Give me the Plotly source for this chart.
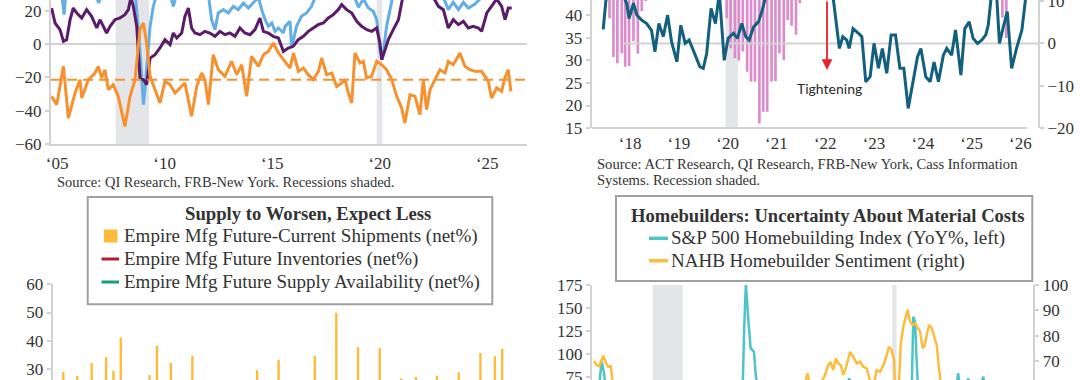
import plotly.graph_objects as go

W, H = 1080, 380
SERIF = "Liberation Serif"
SANS = "Lato"
TXT = "#333333"
GRID = "#d2d2d2"
REC = "#e4e5e8"

# ---------------- Panel A (top-left): Empire survey lines, decimal years ----------------
a_blue = [(2004.92, 32), (2005.41, 30), (2005.52, 17.6), (2005.60, 30), (2006.96, 30), (2007.14, 24.6),
          (2007.27, 32), (2008.51, 35), (2008.85, 27), (2009.00, 5), (2009.13, -20), (2009.21, -36.4),
          (2009.28, -28), (2009.36, -13.4), (2009.52, 10.6), (2009.67, 22.6), (2009.83, 30), (2010.45, 30),
          (2010.60, 22.6), (2010.76, 30), (2012.23, 30), (2012.38, 14.6), (2012.54, 8.6), (2012.69, 18.6),
          (2012.93, 20.6), (2013.16, 18.6), (2013.39, 22.6), (2013.62, 20.6), (2013.86, 24.6), (2014.09, 21.6),
          (2014.32, 24.6), (2014.56, 28), (2014.71, 20.6), (2014.87, 14.6), (2015.02, 10.6), (2015.18, 12.6),
          (2015.33, 7.6), (2015.49, 9.6), (2015.72, 6.6), (2015.80, 10.6), (2016.03, 13.6), (2016.10, -1.4),
          (2016.18, 2.0), (2016.33, 10.6), (2016.56, 16.6), (2016.80, 18.6), (2017.03, 22.6), (2017.26, 30),
          (2018.10, 35), (2018.97, 30), (2019.21, 22.1), (2019.44, 27), (2019.67, 21.6), (2019.90, 19.6),
          (2020.06, 14.6), (2020.21, -3.4), (2020.32, -9.4), (2020.52, 10.6), (2020.68, 20.6), (2020.83, 30),
          (2021.80, 40), (2023.16, 28), (2023.39, 20.6), (2023.62, 25), (2023.86, 20.6), (2024.09, 25),
          (2024.32, 21.6), (2024.63, 24), (2024.94, 28), (2025.50, 32), (2026.30, 30)]

a_purple = [(2004.94, 21.6), (2005.10, 12.6), (2005.33, 8.6), (2005.49, 1.6), (2005.64, 2.6), (2005.80, 14.6),
            (2005.95, 21.6), (2006.11, 18.6), (2006.34, 15.6), (2006.57, 20.6), (2006.80, 16.6), (2007.04, 9.6),
            (2007.19, 14.6), (2007.35, 10.6), (2007.50, 6.6), (2007.66, 10.6), (2007.89, 14.6), (2008.12, 15.6),
            (2008.35, 17.6), (2008.51, 20.6), (2008.63, 28), (2008.74, 22.6), (2008.90, 10.6), (2009.05, -20.4),
            (2009.21, -21.4), (2009.36, -24.4), (2009.52, -8.4), (2009.75, -6.4), (2009.98, -2.4), (2010.21, 2.6),
            (2010.45, -0.4), (2010.60, 6.6), (2010.76, 3.6), (2010.99, 6.6), (2011.14, 16.6), (2011.30, 21.6),
            (2011.45, 9.6), (2011.61, 6.6), (2011.84, 5.6), (2012.07, 7.6), (2012.30, 6.6), (2012.54, 4.6),
            (2012.77, 7.6), (2013.00, 5.6), (2013.23, 6.6), (2013.47, 4.6), (2013.70, 9.6), (2013.93, 6.6),
            (2014.17, 5.6), (2014.40, 8.6), (2014.63, 15.6), (2014.79, 7.6), (2015.02, 6.6), (2015.25, 4.6),
            (2015.49, 3.6), (2015.72, -4.4), (2015.95, -2.4), (2016.18, -1.4), (2016.41, 2.6), (2016.65, 4.6),
            (2016.88, 7.6), (2017.11, 9.6), (2017.34, 11.6), (2017.58, 12.6), (2017.81, 15.6), (2018.04, 17.6),
            (2018.27, 20.6), (2018.43, 23.6), (2018.66, 20.6), (2018.90, 18.6), (2019.13, 13.6), (2019.36, 10.6),
            (2019.60, 8.6), (2019.83, 7.6), (2020.06, 9.6), (2020.21, 0.6), (2020.29, -9.4), (2020.45, -3.4),
            (2020.60, 2.6), (2020.83, 8.6), (2021.07, 14.6), (2021.22, 24.6), (2021.30, 30), (2022.00, 38),
            (2022.69, 28), (2022.93, 22.6), (2023.16, 20.6), (2023.39, 9.6), (2023.62, 14.6), (2023.86, 11.6),
            (2024.09, 13.6), (2024.32, 9.6), (2024.55, 10.6), (2024.79, 9.6), (2024.94, 7.6), (2025.18, 18.6),
            (2025.41, 22.6), (2025.64, 27), (2025.87, 22.6), (2026.03, 14.6), (2026.18, 21.6), (2026.34, 21.6)]

a_orange = [(2004.94, -31.4), (2005.18, -36.4), (2005.49, -13.4), (2005.72, -44.4), (2006.03, -29.4),
            (2006.26, -21.4), (2006.34, -32.4), (2006.65, -21.4), (2006.96, -17.4), (2007.11, -13.4),
            (2007.27, -20.4), (2007.42, -15.4), (2007.58, -27.4), (2007.81, -24.4), (2008.04, -31.4),
            (2008.35, -49.4), (2008.59, -31.4), (2008.82, -21.4), (2009.05, 8.6), (2009.21, 12.6),
            (2009.36, 0.6), (2009.52, -19.4), (2009.75, -27.4), (2009.98, -35.4), (2010.21, -22.4),
            (2010.45, -24.4), (2010.68, -29.4), (2010.91, -26.4), (2011.14, -23.4), (2011.45, -43.4),
            (2011.69, -25.4), (2011.92, -17.4), (2012.07, -21.4), (2012.23, -36.4), (2012.46, -6.4),
            (2012.69, -15.4), (2013.00, -19.4), (2013.31, -10.4), (2013.55, -18.4), (2013.78, -12.4),
            (2014.01, -31.4), (2014.24, -7.4), (2014.56, -13.4), (2014.79, -6.4), (2015.02, -4.4),
            (2015.25, 0.6), (2015.49, -5.4), (2015.72, -9.4), (2016.03, -14.4), (2016.19, -5.4),
            (2016.42, -16.4), (2016.65, -14.4), (2016.88, -18.4), (2017.11, -21.4), (2017.35, -16.4),
            (2017.50, -8.4), (2017.73, -18.4), (2017.97, -17.4), (2018.20, -25.4), (2018.43, -23.4),
            (2018.59, -21.4), (2018.74, -29.4), (2018.90, -35.4), (2019.05, -5.4), (2019.28, -11.4),
            (2019.44, -10.4), (2019.59, -20.4), (2019.82, -19.4), (2020.06, -10.4), (2020.29, -12.4),
            (2020.52, -15.4), (2020.76, -21.4), (2020.99, -31.4), (2021.22, -38.4), (2021.37, -47.4),
            (2021.61, -30.4), (2021.84, -31.4), (2022.07, -42.4), (2022.23, -21.4), (2022.38, -39.4),
            (2022.54, -27.4), (2022.77, -21.4), (2023.00, -15.4), (2023.24, -17.4), (2023.39, -10.4),
            (2023.62, -12.4), (2023.93, -5.4), (2024.16, -13.4), (2024.39, -15.4), (2024.63, -16.4),
            (2024.94, -16.4), (2025.25, -22.4), (2025.40, -32.4), (2025.64, -26.4), (2025.87, -28.4),
            (2026.02, -20.4), (2026.18, -15.4), (2026.30, -28.4)]
a_orange_mean = -21.5
a_recessions = [(2007.92, 2009.47), (2020.06, 2020.32)]
a_tick_years = [2005, 2010, 2015, 2020, 2025]
a_tick_text = ["\u201805", "\u201810", "\u201815", "\u201820", "\u201825"]
a_y_ticks = [-60, -40, -20, 0, 20]

# ---------------- Panel B (top-right) ----------------
b_teal = [(2017.57, 3.3), (2017.64, 12), (2017.88, 14), (2018.05, 9.5), (2018.10, 5.9), (2018.19, 9.5),
          (2018.26, 6.7), (2018.36, 5.5), (2018.46, 4.7), (2018.56, 3.1), (2018.63, -2.0), (2018.71, 4.7),
          (2018.80, 1.6), (2018.89, 6.7), (2018.97, 0.4), (2019.08, -4.4), (2019.16, 4.3), (2019.25, 0.0),
          (2019.33, 0.8), (2019.45, -2.8), (2019.55, -5.5), (2019.62, -5.9), (2019.69, -2.4), (2019.78, 8.3),
          (2019.87, 4.7), (2019.95, 12), (2020.05, -4.0), (2020.13, 1.2), (2020.24, 2.4), (2020.32, 1.2),
          (2020.41, 4.7), (2020.49, 1.6), (2020.56, 0.8), (2020.65, 3.9), (2020.75, 5.1), (2020.82, 7.5),
          (2020.92, 12), (2021.50, 20), (2022.20, 14), (2022.28, 11), (2022.41, -1.2), (2022.48, 1.6),
          (2022.56, 0.8), (2022.61, -1.2), (2022.69, 3.5), (2022.80, 2.4), (2022.87, 1.6), (2022.95, -9.1),
          (2023.04, -7.9), (2023.12, 0.0), (2023.21, -5.9), (2023.29, -1.2), (2023.38, -7.1), (2023.47, 2.0),
          (2023.56, 2.0), (2023.65, -5.9), (2023.73, -5.9), (2023.82, -15.4), (2023.92, -8.7), (2024.01, -3.2),
          (2024.08, -1.2), (2024.18, -7.9), (2024.27, -9.1), (2024.35, -4.4), (2024.44, -9.1), (2024.54, -2.8),
          (2024.61, -1.2), (2024.71, -2.8), (2024.79, 3.2), (2024.90, -7.5), (2024.98, 3.5), (2025.07, 5.1),
          (2025.15, 1.2), (2025.24, 0.0), (2025.33, 0.8), (2025.41, 2.0), (2025.46, 4.3), (2025.53, 12),
          (2025.63, 12), (2025.69, 0.0), (2025.77, 3.9), (2025.85, 7.5), (2025.94, -5.9), (2026.04, -1.2),
          (2026.15, 3.2), (2026.23, 11)]
b_bar_years = [2017.70, 2017.78, 2017.86, 2017.95, 2018.02, 2018.10, 2018.19, 2018.28, 2018.36, 2018.44,
               2020.10, 2020.18, 2020.27, 2020.35, 2020.43, 2020.52, 2020.60, 2020.68, 2020.77, 2020.85,
               2020.93, 2021.02, 2021.10, 2021.18, 2021.27, 2021.35, 2021.43, 2021.52, 2021.60,
               2025.75, 2025.83]
b_bar_vals = [39.4, 30.8, 29.4, 31.6, 28.6, 28.8, 34.3, 31.5, 41.0, 43.2,
              39.4, 32.7, 30.5, 30.0, 32.0, 27.5, 25.3, 25.3, 16.0, 18.6,
              18.6, 25.3, 25.4, 31.6, 30.1, 39.0, 37.7, 35.7, 42.7,
              39.5, 35.0]
b_recession = (2020.08, 2020.33)
b_tick_years = list(range(2018, 2027))
b_tick_text = ["\u2018" + str(y)[2:] for y in b_tick_years]
b_left_ticks = [15, 20, 25, 30, 35, 40, 45]
b_right_ticks = [-20, -10, 0, 10]

# ---------------- Panel C (bottom-left) ----------------
c_months = ["2021-01-01", "2021-03-01", "2021-05-01", "2021-07-01", "2021-08-01", "2021-09-01",
            "2022-01-01", "2022-02-01", "2022-04-01", "2022-07-01", "2023-04-01", "2023-07-01",
            "2023-12-01", "2024-03-01", "2024-06-01", "2024-09-01", "2024-12-01", "2025-02-01",
            "2025-05-01", "2025-08-01", "2025-11-01", "2026-01-01", "2026-02-01"]
c_shipments = [29.0, 27.5, 32.0, 34.1, 29.3, 41.1, 27.8, 38.2, 32.2, 34.7, 29.5, 33.2,
               34.6, 49.9, 37.7, 37.5, 26.7, 27.1, 27.6, 28.8, 35.6, 34.5, 37.1]
c_y_ticks = [30, 40, 50, 60]
c_title = "Supply to Worsen, Expect Less"
c_names = ["Empire Mfg Future-Current Shipments (net%)",
           "Empire Mfg Future Inventories (net%)",
           "Empire Mfg Future Supply Availability (net%)"]

# ---------------- Panel D (bottom-right) ----------------
d_teal = [(2004.92, 55), (2005.18, 62), (2005.33, 91.3), (2005.45, 78.6), (2005.60, 50), (2006.5, -20),
          (2008.0, -60), (2009.3, 10), (2010.5, 0), (2011.5, -20), (2012.40, 40), (2012.49, 65),
          (2012.57, 131.3), (2012.65, 177), (2012.77, 138.6), (2012.89, 105.9), (2012.99, 104),
          (2013.06, 102), (2013.15, 76.7), (2013.28, 60), (2014.0, 10), (2015.0, 15), (2016.0, -10),
          (2017.5, 50), (2017.90, 73.1), (2018.2, 40), (2018.8, -30), (2019.5, 20), (2020.3, -30),
          (2020.8, 50), (2021.07, 62), (2021.15, 140.4), (2021.24, 135), (2021.32, 91), (2021.40, 60),
          (2022.3, -20), (2023.0, 20), (2023.43, 78.6), (2023.52, 60), (2023.80, 65), (2023.94, 73),
          (2024.05, 62), (2024.5, 60), (2024.70, 75), (2024.79, 62), (2025.3, -10), (2026.1, 0)]
d_yellow = [(2004.94, 70.1), (2005.08, 68.5), (2005.21, 68.0), (2005.33, 70.5), (2005.41, 72.2),
            (2005.55, 69.2), (2005.67, 67.8), (2005.79, 68.0), (2005.87, 63.9), (2006.0, 55), (2007.0, 35),
            (2008.5, 18), (2010.0, 16), (2012.0, 25), (2013.5, 55), (2015.0, 58), (2015.65, 61),
            (2015.77, 65.2), (2015.9, 61), (2016.3, 59), (2016.67, 64.6), (2016.83, 68.5), (2016.95, 69.7),
            (2017.09, 66.5), (2017.21, 71.1), (2017.34, 69.2), (2017.46, 68.5), (2017.60, 64.6),
            (2017.72, 67.2), (2017.94, 73.7), (2018.10, 71.7), (2018.28, 69.2), (2018.44, 69.8),
            (2018.61, 67.8), (2018.78, 67.2), (2018.86, 64.6), (2018.95, 62.5), (2019.12, 60),
            (2019.29, 66.5), (2019.46, 65.8), (2019.66, 69.0), (2019.80, 72.4), (2019.91, 75.7),
            (2020.05, 74.4), (2020.17, 70.5), (2020.24, 55), (2020.36, 55), (2020.45, 66), (2020.51, 76.4),
            (2020.64, 83.6), (2020.76, 86.9), (2020.86, 90.2), (2020.98, 85.6), (2021.10, 84.3),
            (2021.24, 84.9), (2021.35, 83.6), (2021.49, 81.6), (2021.63, 75.1), (2021.74, 76.4),
            (2021.83, 80.3), (2021.96, 84.3), (2022.08, 83.0), (2022.20, 79.7), (2022.34, 76.4),
            (2022.45, 67.2), (2022.59, 55), (2023.0, 35), (2024.0, 45), (2025.0, 40), (2026.1, 38)]
d_recessions = [(2007.92, 2009.44), (2020.08, 2020.30)]
d_left_ticks = [75, 100, 125, 150, 175]
d_right_ticks = [60, 70, 80, 90, 100]
d_title = "Homebuilders: Uncertainty About Material Costs"
d_names = ["S&P 500 Homebuilding Index (YoY%, left)", "NAHB Homebuilder Sentiment (right)"]

# ---------------- colours ----------------
A_BLUE, A_PURPLE, A_ORANGE = "#63aee4", "#5a1c68", "#f7912f"
B_TEAL, B_PINK, B_RED = "#12607e", "#dd8ccb", "#e8232b"
C_YELLOW, C_RED, C_GREEN = "#fcbb3a", "#b31b30", "#13a07a"
D_TEAL, D_YELLOW = "#4fc4c6", "#fcbd3e"


def fx(p):
    return p / W


def fy(p):
    return 1 - p / H


def xs(pts):
    return [p[0] for p in pts]


def ys(pts):
    return [p[1] for p in pts]


TICKFONT = dict(family=SERIF, size=17, color=TXT)
fig = go.Figure()

# Panel A
for pts, col in [(a_blue, A_BLUE), (a_purple, A_PURPLE), (a_orange, A_ORANGE)]:
    fig.add_trace(go.Scatter(x=xs(pts), y=ys(pts), mode="lines", line=dict(color=col, width=3),
                             xaxis="x", yaxis="y", hoverinfo="skip"))
A_XR = [2004.912, 2027.05]
fig.add_trace(go.Scatter(x=A_XR, y=[a_orange_mean] * 2, mode="lines",
                         line=dict(color=A_ORANGE, width=2, dash="10px,6px"), xaxis="x", yaxis="y"))

# Panel B
B_BAR_TOP = 50
fig.add_trace(go.Bar(x=b_bar_years, y=[v - B_BAR_TOP for v in b_bar_vals], base=B_BAR_TOP, width=0.055,
                     marker=dict(color=B_PINK, line=dict(width=0)), xaxis="x2", yaxis="y2"))
B_XR = [2017.334, 2026.48]
fig.add_trace(go.Scatter(x=[2017.98, 2026.57], y=[0, 0], mode="lines", line=dict(color=GRID, width=2),
                         xaxis="x2", yaxis="y3", cliponaxis=False))
fig.add_trace(go.Scatter(x=xs(b_teal), y=ys(b_teal), mode="lines", line=dict(color=B_TEAL, width=3),
                         xaxis="x2", yaxis="y3"))

# Panel C
BAR_MS = 10 * 86400000
fig.add_trace(go.Bar(x=c_months, y=c_shipments, width=BAR_MS, marker=dict(color=C_YELLOW, line=dict(width=0)),
                     xaxis="x3", yaxis="y4"))

# Panel D
fig.add_trace(go.Scatter(x=xs(d_teal), y=ys(d_teal), mode="lines", line=dict(color=D_TEAL, width=2.5),
                         xaxis="x4", yaxis="y5"))
fig.add_trace(go.Scatter(x=xs(d_yellow), y=ys(d_yellow), mode="lines", line=dict(color=D_YELLOW, width=2.5),
                         xaxis="x4", yaxis="y6"))

common_y = dict(showline=True, linecolor=GRID, linewidth=2, showgrid=False, zeroline=False,
                ticks="outside", ticklen=4, tickwidth=1.5, tickcolor=GRID, tickfont=TICKFONT,
                ticklabeloverflow="allow")
common_x = dict(showline=True, linecolor=GRID, linewidth=2, showgrid=False, zeroline=False,
                ticks="", tickfont=TICKFONT)

fig.update_layout(
    width=W, height=H, margin=dict(l=0, r=0, t=0, b=0), template="none", showlegend=False,
    paper_bgcolor="white", plot_bgcolor="white", barmode="overlay",
    xaxis=dict(common_x, domain=[fx(51), fx(527)], range=A_XR, anchor="y",
               tickvals=[t + 0.2 for t in a_tick_years], ticktext=a_tick_text, ticklabelstandoff=3),
    yaxis=dict(common_y, domain=[fy(144), 1], range=[-60, 26.4], anchor="x", tickvals=a_y_ticks,
               zeroline=True, zerolinecolor=GRID, zerolinewidth=2),
    xaxis2=dict(common_x, domain=[fx(591.7), fx(1038)], range=B_XR, anchor="y2", showline=False,
                tickvals=[t + 0.12 for t in b_tick_years], ticktext=b_tick_text, ticklabelstandoff=3),
    yaxis2=dict(common_y, domain=[fy(128), 1], range=[15, 43.44], anchor="x2", tickvals=b_left_ticks),
    yaxis3=dict(common_y, range=[-20.05, 10.28], anchor="x2", overlaying="y2", side="right",
                tickvals=b_right_ticks),
    xaxis3=dict(common_x, domain=[fx(52.7), fx(527)], type="date", range=["2020-11-17", "2026-05-17"],
                anchor="y4", showline=False, showticklabels=False),
    yaxis4=dict(common_y, domain=[0, fy(284.3)], range=[26.06, 60], anchor="x3", tickvals=c_y_ticks),
    xaxis4=dict(common_x, domain=[fx(592), fx(1033.3)], range=[2004.839, 2027.24], anchor="y5",
                showline=False, showticklabels=False),
    yaxis5=dict(common_y, domain=[0, fy(285)], range=[71.3, 175], anchor="x4", tickvals=d_left_ticks),
    yaxis6=dict(common_y, range=[62.6, 100], anchor="x4", overlaying="y5", side="right",
                tickvals=d_right_ticks),
)

shapes = []
for a, b in a_recessions:
    shapes.append(dict(type="rect", xref="x", yref="y domain", x0=a, x1=b, y0=0, y1=1,
                       fillcolor=REC, line=dict(width=0), layer="below"))
shapes.append(dict(type="rect", xref="x2", yref="y2 domain", x0=b_recession[0], x1=b_recession[1], y0=0, y1=1,
                   fillcolor=REC, line=dict(width=0), layer="below"))
for a, b in d_recessions:
    shapes.append(dict(type="rect", xref="x4", yref="y5 domain", x0=a, x1=b, y0=0, y1=1,
                       fillcolor=REC, line=dict(width=0), layer="below"))
# top-right bottom axis line (stops short of the right axis)
shapes.append(dict(type="line", xref="paper", yref="paper", x0=fx(591.7), x1=fx(1027), y0=fy(128), y1=fy(128),
                   line=dict(color=GRID, width=2), layer="below"))

# legend boxes
shapes.append(dict(type="rect", xref="paper", yref="paper", x0=fx(87.7), x1=fx(492.3), y0=fy(304.3), y1=fy(197),
                   fillcolor="white", line=dict(color="#a0a0a0", width=2), layer="above"))
shapes.append(dict(type="rect", xref="paper", yref="paper", x0=fx(616), x1=fx(1032.3), y0=fy(281), y1=fy(196),
                   fillcolor="white", line=dict(color="#a0a0a0", width=2), layer="above"))
# legend symbols
shapes.append(dict(type="rect", xref="paper", yref="paper", x0=fx(104), x1=fx(117.5), y0=fy(242.5), y1=fy(229.5),
                   fillcolor=C_YELLOW, line=dict(width=0), layer="above"))
for yy, col in [(259, C_RED), (282, C_GREEN)]:
    shapes.append(dict(type="line", xref="paper", yref="paper", x0=fx(101.5), x1=fx(119), y0=fy(yy), y1=fy(yy),
                       line=dict(color=col, width=3), layer="above"))
for yy, col in [(238.3, D_TEAL), (260.7, D_YELLOW)]:
    shapes.append(dict(type="line", xref="paper", yref="paper", x0=fx(649), x1=fx(668), y0=fy(yy), y1=fy(yy),
                       line=dict(color=col, width=3.5), layer="above"))
fig.update_layout(shapes=shapes)

ann = []


def text(x, y, s, size, anchor="left", bold=False, family=SERIF, color=TXT):
    ann.append(dict(x=fx(x), y=fy(y), xref="paper", yref="paper", text=("<b>%s</b>" % s) if bold else s,
                    showarrow=False, xanchor=anchor, yanchor="middle",
                    font=dict(family=family, size=size, color=color)))


text(55.4, 181.7, "Source: QI Research, FRB-New York. Recessions shaded.", 14.5)
text(595.4, 164, "Source: ACT Research, QI Research, FRB-New York, Cass Information", 14.6)
text(595.4, 180, "Systems. Recession shaded.", 14.6)
text(829, 88, "Tightening", 14, anchor="center", family=SANS, color="#2b2b2b")
ann.append(dict(x=fx(827), y=fy(70), xref="paper", yref="paper", text="", showarrow=True,
                ax=0, ay=-76, axref="pixel", ayref="pixel", arrowcolor=B_RED, arrowwidth=1.8,
                arrowhead=2, arrowsize=1.2))
text(307.6, 213.5, c_title, 18.7, anchor="center", bold=True)
for yy, s in zip([235.7, 259, 281.7], c_names):
    text(122, yy, s, 19)
text(827.5, 215, d_title, 18.6, anchor="center", bold=True)
for yy, s in zip([238.3, 260.7], d_names):
    text(669, yy, s, 19)
fig.update_layout(annotations=ann)

fig.write_html("out.html", include_plotlyjs=True, config=dict(displayModeBar=False),
               post_script="document.body.style.margin='0';document.body.style.overflow='hidden';")
